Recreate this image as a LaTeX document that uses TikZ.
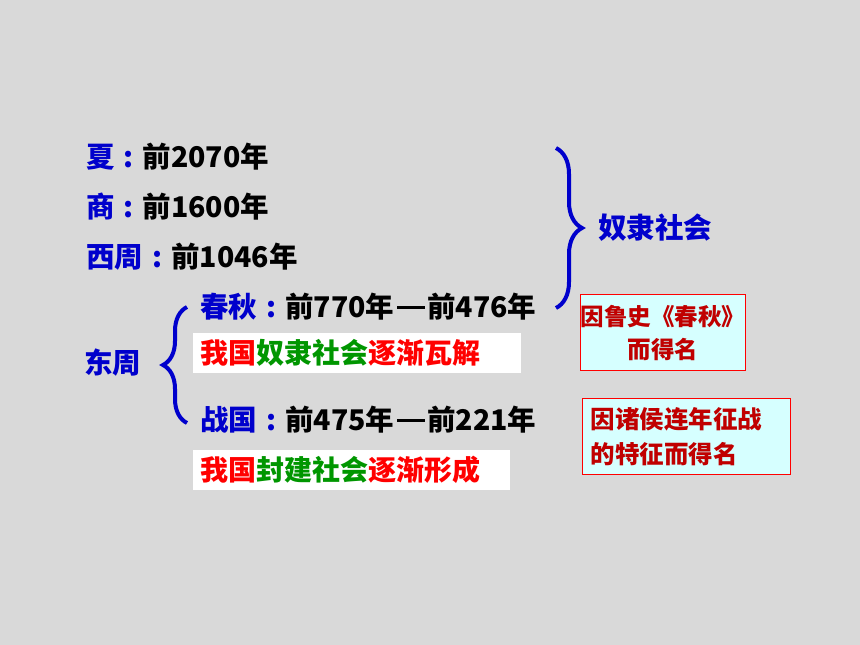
\documentclass[tikz,border=0pt]{standalone}
\usepackage{fontspec}
\setmainfont{Noto Sans CJK SC}
\usetikzlibrary{positioning,decorations.pathreplacing}
\definecolor{BackClr}{RGB}{217,217,217}
\definecolor{DynastyClr}{RGB}{0,0,204}
\definecolor{SocietyClr}{RGB}{0,150,0}
\definecolor{ChangeClr}{RGB}{255,0,0}
\definecolor{NoteClr}{RGB}{192,0,0}
\definecolor{NoteFillClr}{RGB}{214,255,255}
\newcommand\colonsep{\makebox[28pt][c]{:}}
\newcommand\yeardash{\hspace{3pt}\rule[8.5pt]{28pt}{3pt}\hspace{2pt}}

\begin{document}
\begin{tikzpicture}[x=1pt,y=-1pt,
  period/.style={anchor=west,inner sep=0pt,font=\fontsize{28.5}{34}\selectfont\bfseries},
  society/.style={anchor=west,fill=white,minimum height=40pt,inner xsep=7pt,inner ysep=0pt,
    align=left,font=\fontsize{28}{34}\selectfont\bfseries},
  note/.style={draw=red,line width=1pt,fill=NoteFillClr,minimum height=76pt,inner ysep=0pt,
    text=NoteClr,font=\fontsize{23.5}{33}\selectfont\bfseries},
  bracestyle/.style={draw=DynastyClr,line width=4pt,decorate,decoration={brace,amplitude=#1}}]

\fill[BackClr] (0,0) rectangle (860,645);
\useasboundingbox (0,0) rectangle (860,645);

% dynasties
\node[period] (xia) at (86,157) {\textcolor{DynastyClr}{夏\colonsep}前2070年};
\node[period] (shang) at (86,207) {\textcolor{DynastyClr}{商\colonsep}前1600年};
\node[period] (xizhou) at (86,257) {\textcolor{DynastyClr}{西周\colonsep}前1046年};
\node[period] (chunqiu) at (200,307) {\textcolor{DynastyClr}{春秋\colonsep}前770年\yeardash 前476年};
\node[period] (zhanguo) at (200,420) {\textcolor{DynastyClr}{战国\colonsep}前475年\yeardash 前221年};
\node[period] (dongzhou) at (84,363) {\textcolor{DynastyClr}{东周}};

% societies
\node[society,text width=314pt] (decline) at (193,353) {\textcolor{ChangeClr}{我国}\textcolor{SocietyClr}{奴隶社会}\textcolor{ChangeClr}{逐渐瓦解}};
\node[society,text width=303pt] (rise) at (193,470) {\textcolor{ChangeClr}{我国}\textcolor{SocietyClr}{封建社会}\textcolor{ChangeClr}{逐渐形成}};

% braces
\coordinate (slaveTop) at (556,148);
\coordinate (slaveBot) at (556,308);
\draw[bracestyle=26pt] (slaveTop) -- (slaveBot);
\node[period,text=DynastyClr] (slave) at (598,228) {奴隶社会};

\coordinate (eastTop) at (187,307);
\coordinate (eastBot) at (187,423);
\draw[bracestyle=24pt] (eastBot) -- (eastTop);

% notes
\node[note,anchor=north west,text width=165pt,inner xsep=0pt,align=center] (springnote) at (580,294) {因鲁史《春秋》\\而得名};
\node[note,anchor=north west,text width=192pt,inner xsep=8pt,align=left,font=\fontsize{24.5}{35}\selectfont\bfseries] (warnote) at (582,398) {因诸侯连年征战\\的特征而得名};

\end{tikzpicture}
\end{document}
